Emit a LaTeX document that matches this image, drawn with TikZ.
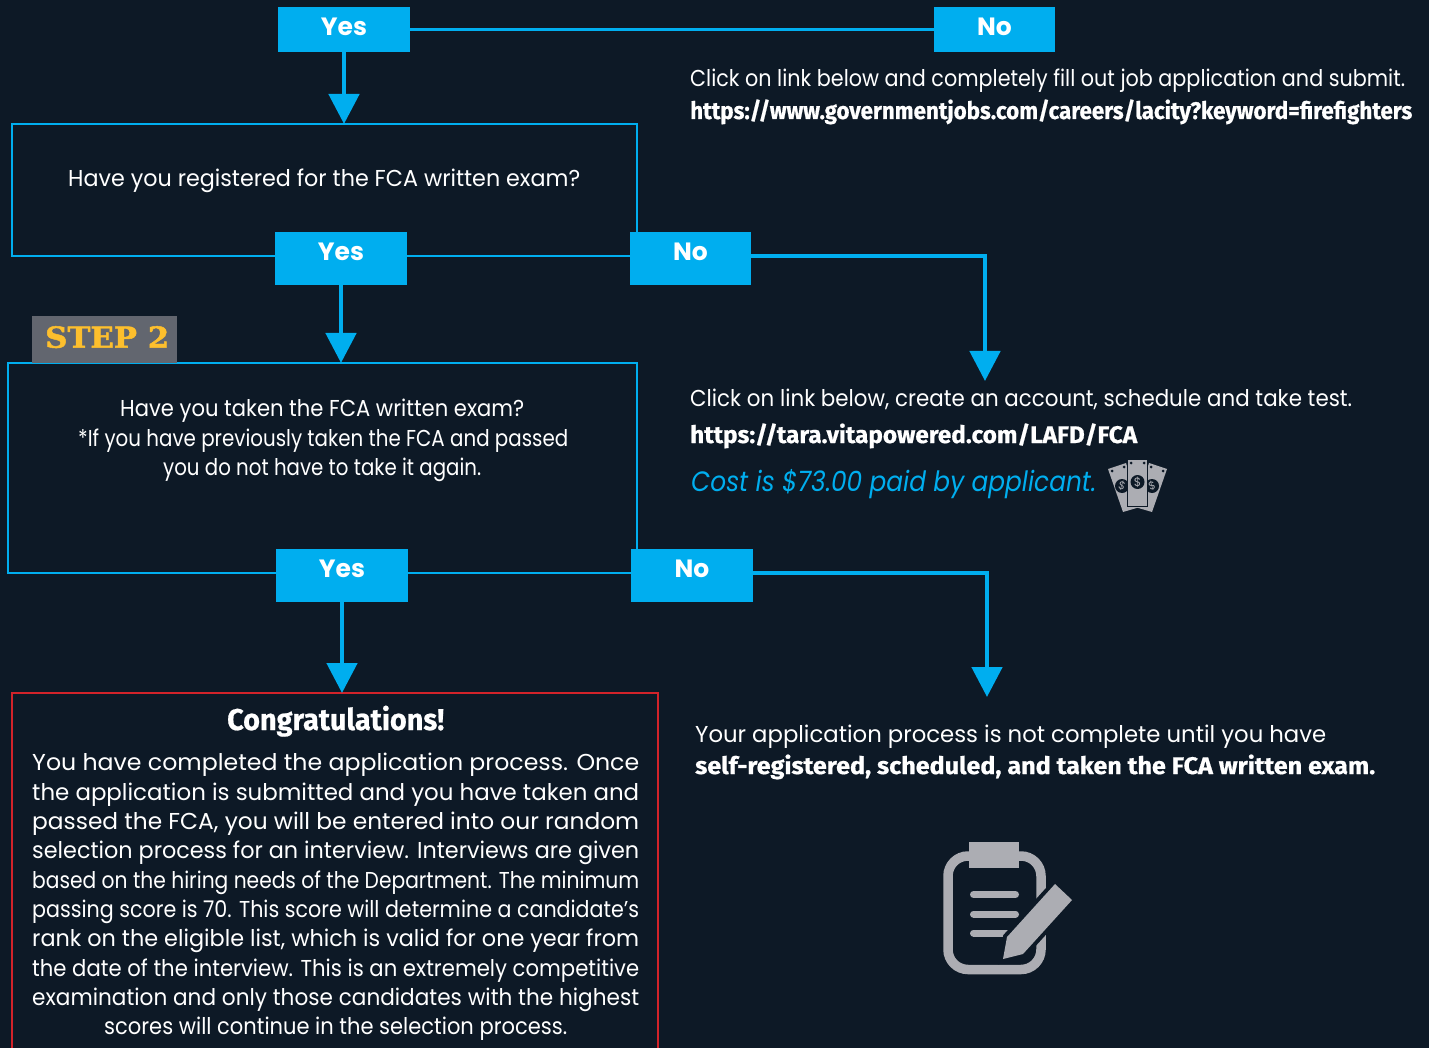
\documentclass[tikz,border=0pt]{standalone}
\usepackage{fontspec}
\usepackage{graphicx}
\setmainfont{Poppins}
\newfontfamily\headfont{Fira Sans}[BoldFeatures={FakeBold=0.7}]
\newfontfamily\slabfont{DejaVu Serif}[BoldFeatures={FakeBold=1.6}]
\usetikzlibrary{arrows.meta}
\definecolor{bg}{HTML}{0D1926}
\definecolor{flow}{HTML}{00AEEF}
\definecolor{alert}{HTML}{D2232A}
\definecolor{icon}{HTML}{ACADB3}
\definecolor{stepbg}{HTML}{62666F}
\definecolor{stepfg}{HTML}{FDBF2D}
\newcommand{\fitline}[2]{\resizebox{#1pt}{\height}{#2}}
\tikzset{
    answer/.style={fill=flow,text=white,inner sep=0pt,text height=18pt,text depth=#1,font=\bfseries\fontsize{25}{25}\selectfont},
    question/.style={draw=flow,line width=2.4pt,inner sep=0pt,outer sep=0pt,anchor=north west},
    link/.style={draw=flow,line width=2.4pt},
    flowarrow/.style={draw=flow,line width=4.8pt,-{Triangle[length=30pt,width=30pt]}},
    body/.style={text=white,inner sep=0pt,anchor=base west,font=\fontsize{23}{23}\selectfont},
    bold/.style={text=white,inner sep=0pt,anchor=base west,font=\headfont\bfseries\fontsize{24}{24}\selectfont},
}
\begin{document}
\begin{tikzpicture}[x=1pt,y=-1pt]
    \fill [bg] (0,0) rectangle (1429,1048);
    \useasboundingbox (0,0) rectangle (1429,1048);
    \clip (0,0) rectangle (1429,1048);

    \node [question,minimum width=625pt,minimum height=132pt] (regbox) at (12,124) {};
    \node [question,minimum width=629pt,minimum height=210pt] (takebox) at (8,363) {};
    \node [question,draw=alert,minimum width=646pt,minimum height=400pt] (congbox) at (12,693) {};
    \node [fill=stepbg,inner sep=0pt,anchor=north west,minimum width=145pt,minimum height=47pt,text=stepfg,text height=21pt,text depth=4pt,font=\slabfont\bfseries\fontsize{29}{29}\selectfont] (step) at (32,315.5) {\hspace*{5pt}\fitline{124}{STEP 2}};

    \node [answer=5pt,minimum width=132pt,minimum height=45pt] (yesa) at (344,29.5) {Yes};
    \node [answer=5pt,minimum width=121pt,minimum height=45pt] (noa) at (994.5,29.5) {No};
    \node [answer=13pt,minimum width=132pt,minimum height=53pt] (yesb) at (341,258.5) {Yes};
    \node [answer=13pt,minimum width=121pt,minimum height=53pt] (nob) at (690.5,258.5) {No};
    \node [answer=13pt,minimum width=132pt,minimum height=53pt] (yesc) at (342,575) {Yes};
    \node [answer=13pt,minimum width=122pt,minimum height=53pt] (noc) at (692,575) {No};
    \coordinate (nobdrop) at (985,381);
    \coordinate (nocdrop) at (987,697);

    \draw [link] (yesa) -- (noa);
    \draw [flowarrow] (yesa.south) -- (yesa.south |- regbox.north);
    \draw [flowarrow] (yesb.south) -- (yesb.south |- takebox.north);
    \draw [flowarrow] (yesc.south) -- (yesc.south |- congbox.north);
    \draw [flowarrow] (nob.east |- regbox.south) -| (nobdrop);
    \draw [flowarrow] (noc.east |- takebox.south) -| (nocdrop);

    \node [body] (applytext) at (690,87) {\fitline{715}{Click on link below and completely fill out job application and submit.}};
    \node [bold] (applyurl) at (690,119) {\fitline{722}{https://www.governmentjobs.com/careers/lacity?keyword=firefighters}};
    \node [body] (regtext) at (68,187) {\fitline{512}{Have you registered for the FCA written exam?}};
    \node [body] (testtext) at (690,406) {\fitline{662}{Click on link below, create an account, schedule and take test.}};
    \node [bold] (testurl) at (690,443) {\fitline{447}{https://tara.vitapowered.com/LAFD/FCA}};
    \node [body,text=flow,font=\itshape\fontsize{28}{28}\selectfont] (cost) at (691,491) {\fitline{405}{Cost is \$73.00 paid by applicant.}};
    \node [body] (takea) at (120,416) {\fitline{404}{Have you taken the FCA written exam?}};
    \node [body] (takeb) at (78,446) {\fitline{490}{*If you have previously taken the FCA and passed}};
    \node [body] (takec) at (163,475) {\fitline{318}{you do not have to take it again.}};
    \node [body] (incompa) at (695,742) {\fitline{631}{Your application process is not complete until you have}};
    \node [bold] (incompb) at (695,774) {\fitline{680}{self-registered, scheduled, and taken the FCA written exam.}};
    \node [bold,font=\headfont\bfseries\fontsize{30}{30}\selectfont] (congrats) at (227,730) {\fitline{217}{Congratulations!}};
    \node [body] (conga) at (32,770) {\fitline{607}{You have completed the application process. Once}};
    \node [body] (congb) at (32,800) {\fitline{607}{the application is submitted and you have taken and}};
    \node [body] (congc) at (32,829) {\fitline{607}{passed the FCA, you will be entered into our random}};
    \node [body] (congd) at (32,858) {\fitline{607}{selection process for an interview. Interviews are given}};
    \node [body] (conge) at (32,888) {\fitline{607}{based on the hiring needs of the Department. The minimum}};
    \node [body] (congf) at (32,917) {\fitline{607}{passing score is 70. This score will determine a candidate’s}};
    \node [body] (congg) at (32,946) {\fitline{607}{rank on the eligible list, which is valid for one year from}};
    \node [body] (congh) at (32,976) {\fitline{607}{the date of the interview. This is an extremely competitive}};
    \node [body] (congi) at (32,1005) {\fitline{607}{examination and only those candidates with the highest}};
    \node [body] (congj) at (104,1034) {\fitline{463}{scores will continue in the selection process.}};

    \draw [icon,line width=9.5pt,rounded corners=20pt] (948,856) rectangle (1041,969.5);
    \fill [icon] (969,842) rectangle (1019,868);
    \draw [icon,line width=7pt,line cap=round] (973.5,894.5) -- (1015.5,894.5);
    \draw [icon,line width=7pt,line cap=round] (973.5,914) -- (1015.5,914);
    \draw [icon,line width=7pt,line cap=round] (973.5,933) -- (1008,933);
    \fill [icon,preaction={draw=bg,line width=8pt}] (1055,884) -- (1072,900) -- (1023,954) -- (1003,959) -- (1007,937) -- cycle;

    \fill [icon] (1108,469) -- (1126,463) -- (1140,507) -- (1123,512) -- cycle;
    \fill [icon] (1167,469) -- (1149,463) -- (1135,507) -- (1152,512) -- cycle;
    \fill [bg] (1122,486) circle (7pt);
    \fill [bg] (1152,486) circle (7pt);
    \fill [icon,draw=bg,line width=1pt] (1127.5,459.5) rectangle (1147.5,506);
    \fill [bg] (1137.5,482) circle (7pt);
    \fill [bg] (1112,471) circle (1.5pt);
    \fill [bg] (1124,467) circle (1.5pt);
    \fill [bg] (1163,471) circle (1.5pt);
    \fill [bg] (1151,467) circle (1.5pt);
    \fill [bg] (1131,463) circle (1.5pt);
    \fill [bg] (1144,463) circle (1.5pt);
    \node [text=icon,inner sep=0pt,font=\fontsize{12}{12}\selectfont] (cashc) at (1137.5,482) {\$};
    \node [text=icon,inner sep=0pt,rotate=-17,font=\fontsize{11}{11}\selectfont] (cashl) at (1122,486) {\$};
    \node [text=icon,inner sep=0pt,rotate=17,font=\fontsize{11}{11}\selectfont] (cashr) at (1152,486) {\$};
\end{tikzpicture}
\end{document}
